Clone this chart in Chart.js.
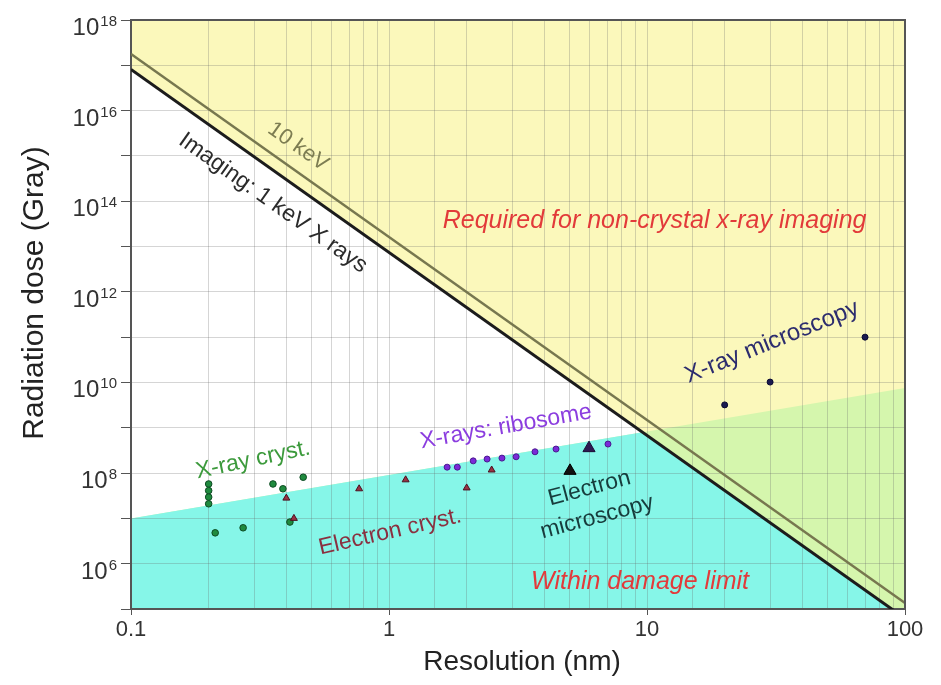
<!DOCTYPE html>
<html>
<head>
<meta charset="utf-8">
<script src="https://cdn.jsdelivr.net/npm/chart.js@4.4.1/dist/chart.umd.min.js"></script>
<style>
  html, body { margin: 0; padding: 0; background: #fff; }
  #wrap { width: 941px; height: 685px; }
</style>
</head>
<body>
<div id="wrap"><canvas id="chart" width="941" height="685"></canvas></div>
<script>
// boundary lines, end points: resolution (nm) / dose (Gy)
const keV1Res = [0.1, 100];
const keV1Dose = [8.1e16, 6.2e4];
const keV10Res = [0.1, 100];
const keV10Dose = [1.78e17, 1.35e5];
const damageRes = [0.1, 100];
const damageDose = [1e7, 7.5e9];

// measurements
const xrayCrystRes = [0.2, 0.2, 0.2, 0.2, 0.212, 0.272, 0.355, 0.388, 0.413, 0.465];
const xrayCrystDose = [5.75e7, 4.1e7, 2.95e7, 2.1e7, 4.8e6, 6.2e6, 5.75e7, 4.5e7, 8.3e6, 8.1e7];
const electronCrystRes = [0.40, 0.428, 0.766, 1.16, 2.0, 2.5];
const electronCrystDose = [2.8e7, 1.0e7, 4.5e7, 7.1e7, 4.7e7, 1.17e8];
const ribosomeRes = [1.68, 1.84, 2.12, 2.40, 2.74, 3.11, 3.68, 4.44, 7.06];
const ribosomeDose = [1.35e8, 1.35e8, 1.86e8, 2.04e8, 2.14e8, 2.29e8, 2.95e8, 3.39e8, 4.37e8];
const emRes = [5.03, 5.96];
const emDose = [1.12e8, 3.55e8];
const xrayMicroRes = [20, 30, 70];
const xrayMicroDose = [3.2e9, 1.02e10, 1.0e11];

// axes
const yDecades = [1e5, 1e6, 1e7, 1e8, 1e9, 1e10, 1e11, 1e12, 1e13, 1e14, 1e15, 1e16, 1e17, 1e18];
const yLabelExps = [6, 8, 10, 12, 14, 16, 18];
const xLabels = [0.1, 1, 10, 100];

const FONT = '"Liberation Sans", Arial, Helvetica, sans-serif';

function pairs(xs, ys) { return xs.map((x, i) => ({x: x, y: ys[i]})); }

// straight line in log-log space: log D = a + b log d
function logFit(xs, ys) {
  const lx = xs.map(Math.log10), ly = ys.map(Math.log10);
  const b = (ly[1] - ly[0]) / (lx[1] - lx[0]);
  return {a: ly[0] - b * lx[0], b: b};
}
const fit1 = logFit(keV1Res, keV1Dose);
const fitD = logFit(damageRes, damageDose);
const crossLog = (fit1.a - fitD.a) / (fitD.b - fit1.b);
const crossPoint = {x: Math.pow(10, crossLog), y: Math.pow(10, fitD.a + fitD.b * crossLog)};

function isDecade(v) {
  const l = Math.log10(v);
  return Math.abs(l - Math.round(l)) < 1e-6;
}

// text labels placed in data coordinates
const notes = [
  {text: ['10 keV'], x: 0.444, y: 1.6e15, angle: 'keV10', color: '#7d7d52', font: '22px'},
  {text: ['Imaging: 1 keV X rays'], x: 0.355, y: 9.1e13, angle: 'keV1', color: '#2b2b2b', font: '23px'},
  {text: ['Required for non-crystal x-ray imaging'], x: 10.7, y: 3.7e13, angle: 0, color: '#e23a3a', font: 'italic 25px'},
  {text: ['X-ray microscopy'], x: 30.5, y: 7.8e10, angle: -22, color: '#2c2c6e', font: '24px'},
  {text: ['X-rays: ribosome'], x: 2.84, y: 1.05e9, angle: -10, color: '#8b3ddf', font: '23px'},
  {text: ['X-ray cryst.'], x: 0.297, y: 1.95e8, angle: -12, color: '#3c9a3c', font: '23px'},
  {text: ['Electron cryst.'], x: 1.01, y: 5.0e6, angle: -13, color: '#8a3040', font: '23px'},
  {text: ['Electron', 'microscopy'], x: 6.19, y: 2.2e7, angle: -15, color: '#173c3c', font: '23px'},
  {text: ['Within damage limit'], x: 9.4, y: 4.0e5, angle: 0, color: '#e23a3a', font: 'italic 25px'}
];

const annotate = {
  id: 'annotate',
  afterDraw(chart) {
    const {ctx, chartArea: a, scales: {x, y}} = chart;
    ctx.save();

    // top and right frame
    ctx.strokeStyle = '#555';
    ctx.lineWidth = 2;
    ctx.beginPath();
    ctx.moveTo(a.left, a.top);
    ctx.lineTo(a.right, a.top);
    ctx.lineTo(a.right, a.bottom);
    ctx.stroke();

    // y tick labels 10^n
    ctx.fillStyle = '#333';
    ctx.textAlign = 'right';
    ctx.textBaseline = 'alphabetic';
    yLabelExps.forEach(e => {
      const py = y.getPixelForValue(Math.pow(10, e));
      const sup = String(e);
      ctx.font = '15px ' + FONT;
      ctx.fillText(sup, 117, py + 6);
      const w = ctx.measureText(sup).width;
      ctx.font = '24px ' + FONT;
      ctx.fillText('10', 117 - w - 1, py + 15);
    });

    // axis titles
    ctx.fillStyle = '#222';
    ctx.textAlign = 'center';
    ctx.textBaseline = 'middle';
    ctx.font = '28px ' + FONT;
    ctx.fillText('Resolution (nm)', 522, 662);
    ctx.save();
    ctx.translate(35, 293);
    ctx.rotate(-Math.PI / 2);
    ctx.font = '30px ' + FONT;
    ctx.fillText('Radiation dose (Gray)', 0, 0);
    ctx.restore();

    // angles of the two boundary lines
    const slope = (xs, ys) => Math.atan2(
      y.getPixelForValue(ys[1]) - y.getPixelForValue(ys[0]),
      x.getPixelForValue(xs[1]) - x.getPixelForValue(xs[0]));
    const lineAngles = {keV1: slope(keV1Res, keV1Dose), keV10: slope(keV10Res, keV10Dose)};

    notes.forEach(n => {
      const ang = typeof n.angle === 'string' ? lineAngles[n.angle] : n.angle * Math.PI / 180;
      ctx.save();
      ctx.translate(x.getPixelForValue(n.x), y.getPixelForValue(n.y));
      ctx.rotate(ang);
      ctx.font = n.font + ' ' + FONT;
      ctx.fillStyle = n.color;
      const lh = 30;
      n.text.forEach((t, i) => {
        ctx.fillText(t, 0, (i - (n.text.length - 1) / 2) * lh);
      });
      ctx.restore();
    });

    ctx.restore();
  }
};

const gridColor = 'rgba(105, 105, 105, 0.28)';

new Chart(document.getElementById('chart'), {
  type: 'scatter',
  data: {
    datasets: [
      // cyan: within damage limit, below imaging line
      {data: [pairs(damageRes, damageDose)[0], crossPoint, pairs(keV1Res, keV1Dose)[1]],
       showLine: true, pointRadius: 0, borderWidth: 0, fill: 'start',
       backgroundColor: '#86f6e8', order: 5},
      // green: damage limit region overall
      {data: pairs(damageRes, damageDose), showLine: true, pointRadius: 0, borderWidth: 0,
       fill: 'start', backgroundColor: '#d5f6ad', order: 6},
      // 1 keV imaging line, yellow above
      {data: pairs(keV1Res, keV1Dose), showLine: true, pointRadius: 0, borderWidth: 3,
       borderColor: '#1c1c1c', fill: 'end', backgroundColor: '#fbf8bb', order: 7},
      // 10 keV line
      {data: pairs(keV10Res, keV10Dose), showLine: true, pointRadius: 0, borderWidth: 2.5,
       borderColor: '#77774f', fill: false, order: 4},
      {label: 'X-ray cryst.', data: pairs(xrayCrystRes, xrayCrystDose), pointStyle: 'circle',
       pointRadius: 3.3, backgroundColor: '#1f8a3e', borderColor: '#0c4a22', borderWidth: 1, order: 1},
      {label: 'Electron cryst.', data: pairs(electronCrystRes, electronCrystDose), pointStyle: 'triangle',
       pointRadius: 4, backgroundColor: '#9a3242', borderColor: '#4a1020', borderWidth: 1, order: 0},
      {label: 'X-rays: ribosome', data: pairs(ribosomeRes, ribosomeDose), pointStyle: 'circle',
       pointRadius: 3, backgroundColor: '#7a2ad8', borderColor: '#4a1a90', borderWidth: 1, order: 2},
      {label: 'Electron microscopy', data: pairs(emRes, emDose), pointStyle: 'triangle',
       pointRadius: 7, backgroundColor: ['#111111', '#2d1850'], borderColor: ['#000000', '#1a0c35'],
       borderWidth: 1, order: 0},
      {label: 'X-ray microscopy', data: pairs(xrayMicroRes, xrayMicroDose), pointStyle: 'circle',
       pointRadius: 3, backgroundColor: '#1a1a50', borderColor: '#0a0a30', borderWidth: 1, order: 1}
    ]
  },
  options: {
    responsive: false,
    animation: false,
    layout: {padding: {top: 20, right: 36, left: 0, bottom: 0}},
    plugins: {
      legend: {display: false},
      tooltip: {enabled: false},
      filler: {drawTime: 'beforeDraw'}
    },
    scales: {
      x: {
        type: 'logarithmic',
        min: 0.1, max: 100,
        afterFit: s => { s.height = 76; },
        grid: {
          color: gridColor, lineWidth: 1, tickLength: 6,
          tickColor: c => (c.tick && isDecade(c.tick.value)) ? '#555' : 'rgba(0,0,0,0)'
        },
        border: {display: true, color: '#555', width: 2},
        ticks: {
          autoSkip: false, maxRotation: 0, padding: 2, color: '#333',
          font: {family: FONT, size: 22},
          callback: v => xLabels.some(l => Math.abs(l - v) < 1e-9) ? String(v) : ''
        }
      },
      y: {
        type: 'logarithmic',
        min: 1e5, max: 1e18,
        afterBuildTicks: s => { s.ticks = yDecades.map(v => ({value: v})); },
        afterFit: s => { s.width = 131; },
        grid: {color: gridColor, lineWidth: 1, tickLength: 10, tickColor: '#555'},
        border: {display: true, color: '#555', width: 2},
        ticks: {display: false}
      }
    }
  },
  plugins: [annotate]
});
</script>
</body>
</html>
